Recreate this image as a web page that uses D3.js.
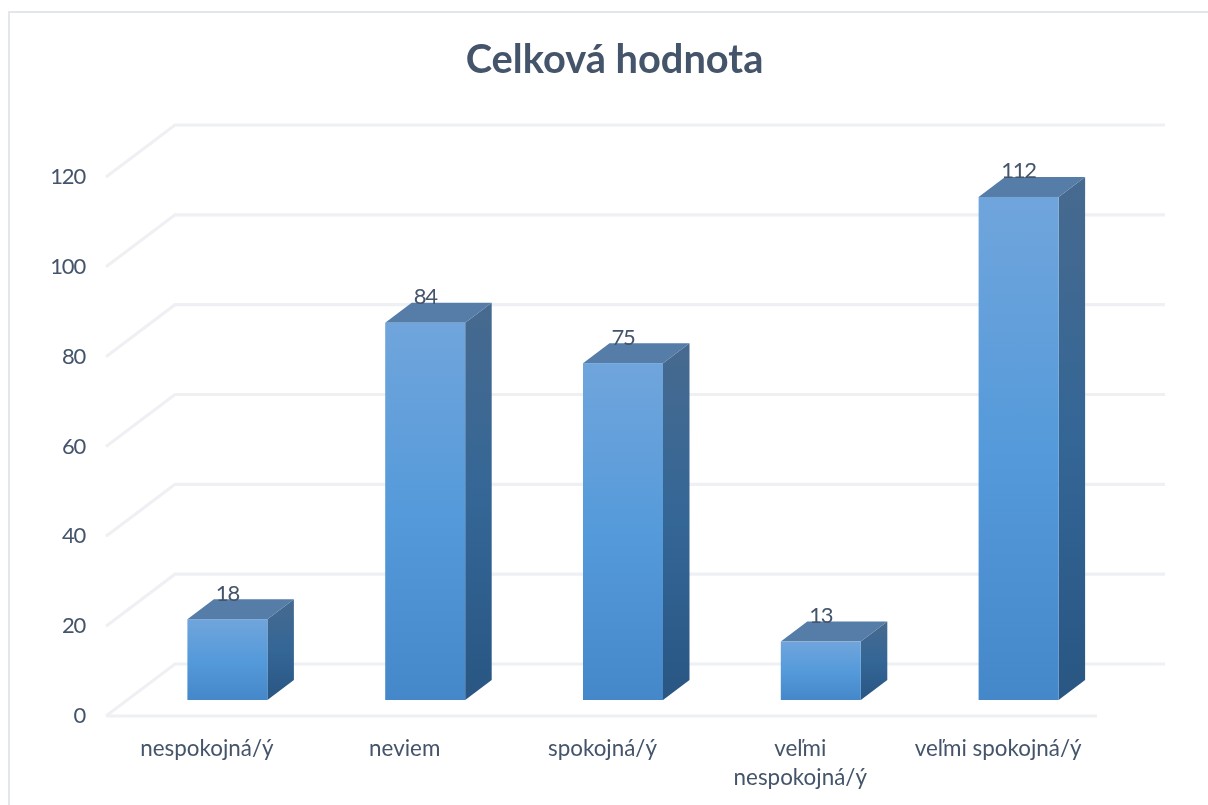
<!DOCTYPE html>
<html><head><meta charset="utf-8">
<script src="https://cdn.jsdelivr.net/npm/d3@7"></script>
<style>html,body{margin:0;padding:0;background:#fff}svg{display:block;filter:blur(0.45px)}text{font-family:Lato,"Open Sans",sans-serif;fill:#44546a}</style>
</head><body><div id="c"></div>
<script>
const categories=["nespokojná/ý","neviem","spokojná/ý","veľmi nespokojná/ý","veľmi spokojná/ý"];
const values=[18,84,75,13,112];
const yTicks=[0,20,40,60,80,100,120];
const titleText="Celková hodnota";
const W=1208,H=805,depthX=69,depthY=-52,barDX=26.5,barDY=-20,barW=80;
const svg=d3.select("#c").append("svg").attr("width",W).attr("height",H);
const defs=svg.append("defs");
function grad(id,stops){const g=defs.append("linearGradient").attr("id",id).attr("x1",0).attr("y1",0).attr("x2",0).attr("y2",1);
 stops.forEach(s=>g.append("stop").attr("offset",s[0]).attr("stop-color",s[1]));}
grad("front",[[0,"#70a5dc"],[0.5,"#559ada"],[1,"#4588ca"]]);
grad("side",[[0,"#476a8f"],[0.5,"#346696"],[1,"#295683"]]);
svg.append("rect").attr("x",9).attr("y",12).attr("width",1300).attr("height",900).attr("fill","none").attr("stroke","#e3e7ec").attr("stroke-width",2);
svg.append("text").text(titleText).attr("x",614.5).attr("y",73).attr("text-anchor","middle").attr("font-size",39.8).attr("font-weight",700);
const x=d3.scaleBand().domain(categories).range([106,1095]);
const y=d3.scaleLinear().domain([0,120]).range([716,177]);
const grid=svg.append("g").attr("fill","none").attr("stroke","#eef0f4").attr("stroke-width",3.2);
yTicks.forEach(t=>{
  const yy=y(t);
  grid.append("path").attr("d",d3.line()([[106,yy],[106+depthX,yy+depthY],[1165,yy+depthY]]));
});
grid.append("path").attr("d",d3.line()([[106,716],[1097,716]]));
svg.append("g").selectAll("text").data(yTicks).join("text").text(d=>d)
 .attr("x",85).attr("y",d=>y(d)+7).attr("text-anchor","end").attr("font-size",22).attr("letter-spacing",-1.2);
const base=y(0)-16;
const offset=x.bandwidth()/2-barW/2+22.5;
const bars=svg.append("g").selectAll("g").data(values).join("g");
bars.each(function(v,i){
  const g=d3.select(this);
  const x0=x(categories[i])+offset,x1=x0+barW,top=y(v)-16;
  g.append("path").attr("d",d3.line()([[x1,top],[x1+barDX,top+barDY],[x1+barDX,base+barDY],[x1,base]])).attr("fill","url(#side)");
  g.append("path").attr("d",d3.line()([[x0,top],[x0+barDX,top+barDY],[x1+barDX,top+barDY],[x1,top]])).attr("fill","#567ca8");
  g.append("rect").attr("x",x0).attr("y",top).attr("width",barW).attr("height",base-top).attr("fill","url(#front)");
  g.append("text").text(v).attr("x",x0+barW/2).attr("y",top-18.5).attr("text-anchor","middle").attr("font-size",22).attr("letter-spacing",-1.2);
});
const catLines=[["nespokojná/ý"],["neviem"],["spokojná/ý"],["veľmi","nespokojná/ý"],["veľmi spokojná/ý"]];
svg.append("g").selectAll("text").data(categories).join("text")
 .attr("text-anchor","middle").attr("font-size",22.4)
 .each(function(c,i){
   d3.select(this).selectAll("tspan").data(catLines[i]).join("tspan")
    .attr("x",x(c)+x.bandwidth()/2+2).attr("y",(d,j)=>756+j*29).text(d=>d);
 });
</script></body></html>
